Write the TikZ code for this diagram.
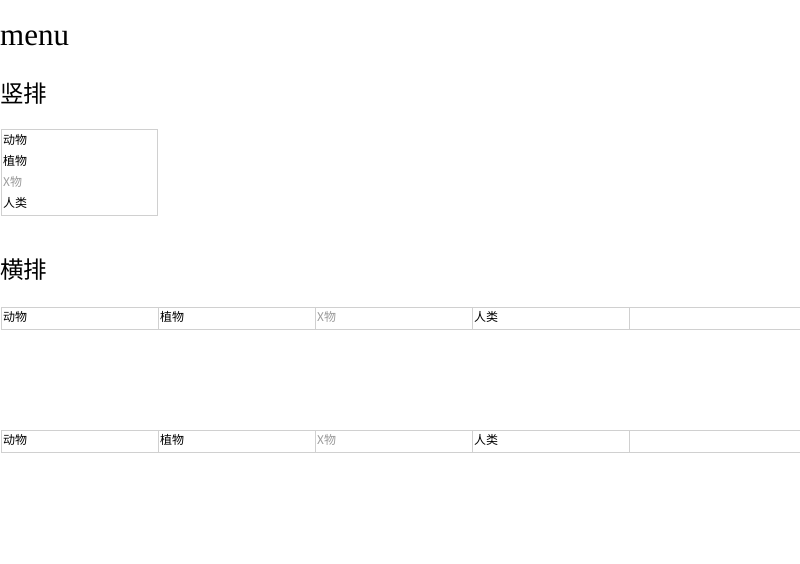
\documentclass[tikz,border=0pt]{standalone}
\usepackage{fontspec}
\setmainfont{Liberation Serif}
\newfontfamily\cjk{Noto Sans CJK SC}
\definecolor{bordergray}{HTML}{D0D0D0}
\definecolor{mutedgray}{HTML}{999999}
\begin{document}
\begin{tikzpicture}[x=1pt,y=-1pt,
  cell/.style={draw=bordergray,line width=1pt,inner sep=0pt,anchor=north west},
  item/.style={font=\cjk\fontsize{12}{12}\selectfont,inner sep=0pt,anchor=west},
  muted/.style={item,text=mutedgray},
  head/.style={font=\cjk\fontsize{23.5}{24}\selectfont,inner sep=0pt,anchor=west}]
\useasboundingbox (0,0) rectangle (800,564);
\begin{scope}
\clip (0,0) rectangle (800,564);
\node[font=\fontsize{31}{32}\selectfont,inner sep=0pt,anchor=base west] (title) at (0,46) {menu};
\node[head] (vhead) at (0,94) {竖排};
\node[cell,minimum width=156.5pt,minimum height=85pt] (vbox) at (0.5,129.5) {};
\node[item] (v1) at (3,140) {动物};
\node[item] (v2) at (3,161) {植物};
\node[muted] (v3) at (3,182) {X物};
\node[item] (v4) at (3,203) {人类};
\node[head] (hhead) at (0,270) {横排};
\foreach \i/\x in {1/0.5,2/157.5,3/314.5,4/471.5}{
  \node[cell,minimum width=157pt,minimum height=22pt] (ra\i) at (\x,306.5) {};
  \node[cell,minimum width=157pt,minimum height=22pt] (rb\i) at (\x,429.5) {};
}
\node[cell,minimum width=200pt,minimum height=22pt] (ra5) at (628.5,306.5) {};
\node[cell,minimum width=200pt,minimum height=22pt] (rb5) at (628.5,429.5) {};
\node[item] (a1) at (3,317) {动物};
\node[item] (a2) at (160,317) {植物};
\node[muted] (a3) at (317,317) {X物};
\node[item] (a4) at (474,317) {人类};
\node[item] (b1) at (3,440) {动物};
\node[item] (b2) at (160,440) {植物};
\node[muted] (b3) at (317,440) {X物};
\node[item] (b4) at (474,440) {人类};
\end{scope}
\end{tikzpicture}
\end{document}
